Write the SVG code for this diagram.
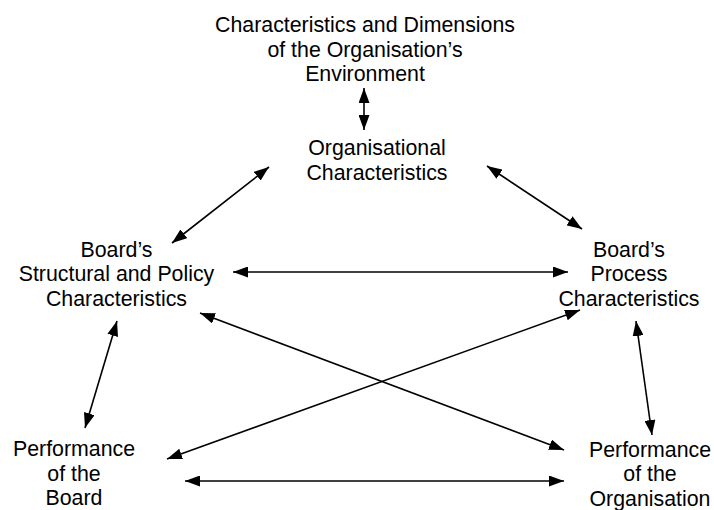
<svg xmlns="http://www.w3.org/2000/svg" width="714" height="510" viewBox="0 0 714 510">
  <style>
    .lbl { font-family: "Liberation Sans", Arial, sans-serif; font-size: 21.33px; fill: #000; text-anchor: middle; }
    .link { stroke: #000; stroke-width: 1.6; fill: none; marker-start: url(#head); marker-end: url(#head); }
  </style>
  <defs>
    <!-- filled arrowhead shared by both ends of every connector -->
    <marker id="head" viewBox="0 0 15 11" refX="15" refY="5.5" markerWidth="15" markerHeight="11" markerUnits="userSpaceOnUse" orient="auto-start-reverse">
      <path d="M0,0 L15,5.5 L0,11 z" fill="#000"/>
    </marker>
  </defs>
  <rect width="714" height="510" fill="#fff"/>

  <g id="connectors">
    <line class="link" x1="364" y1="88" x2="364" y2="130"/>
    <line class="link" x1="172" y1="243" x2="269" y2="167"/>
    <line class="link" x1="487" y1="166" x2="582" y2="229"/>
    <line class="link" x1="233" y1="272" x2="568" y2="272"/>
    <line class="link" x1="200" y1="313" x2="564" y2="450"/>
    <line class="link" x1="167" y1="459" x2="580" y2="310"/>
    <line class="link" x1="117" y1="321" x2="85" y2="428"/>
    <line class="link" x1="636" y1="321" x2="652" y2="435"/>
    <line class="link" x1="185" y1="481" x2="564" y2="481"/>
  </g>

  <g id="environment">
    <text class="lbl" x="365" y="32">Characteristics and Dimensions</text>
    <text class="lbl" x="365" y="56.5">of the Organisation’s</text>
    <text class="lbl" x="365" y="81">Environment</text>
  </g>
  <g id="organisation">
    <text class="lbl" x="377" y="155">Organisational</text>
    <text class="lbl" x="377" y="179.5">Characteristics</text>
  </g>
  <g id="board-structure">
    <text class="lbl" x="116.5" y="256.5">Board’s</text>
    <text class="lbl" x="116.5" y="281">Structural and Policy</text>
    <text class="lbl" x="116.5" y="305.5">Characteristics</text>
  </g>
  <g id="board-process">
    <text class="lbl" x="629" y="256.5">Board’s</text>
    <text class="lbl" x="629" y="281">Process</text>
    <text class="lbl" x="629" y="305.5">Characteristics</text>
  </g>
  <g id="board-performance">
    <text class="lbl" x="74" y="456">Performance</text>
    <text class="lbl" x="74" y="480.5">of the</text>
    <text class="lbl" x="74" y="505">Board</text>
  </g>
  <g id="organisation-performance">
    <text class="lbl" x="650" y="456.5">Performance</text>
    <text class="lbl" x="650" y="481">of the</text>
    <text class="lbl" x="650" y="505.5">Organisation</text>
  </g>
</svg>
